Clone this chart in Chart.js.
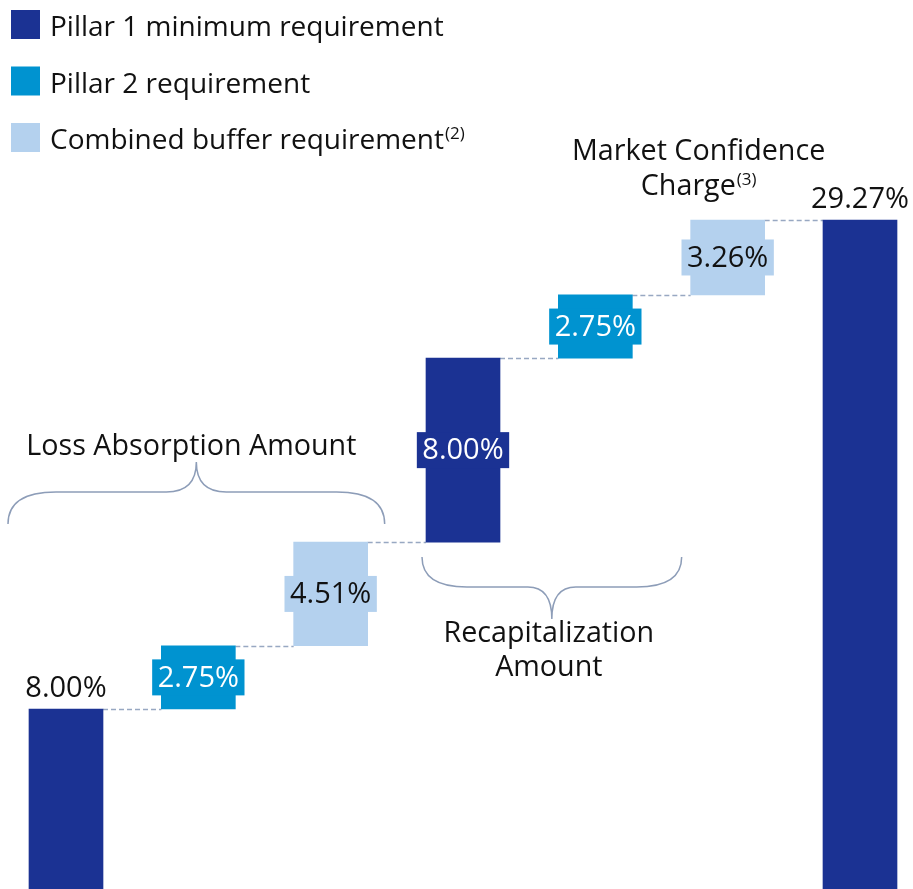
<!DOCTYPE html>
<html>
<head>
<meta charset="utf-8">
<script src="https://cdn.jsdelivr.net/npm/chart.js@4.4.0/dist/chart.umd.min.js"></script>
<style>
  html, body { margin: 0; padding: 0; background: #ffffff; }
  #wrap { width: 913px; height: 889px; }
</style>
</head>
<body>
<div id="wrap"><canvas id="capitalChart" width="913" height="889"></canvas></div>
<script>
// Capital requirement stack, in percent of RWA
var categories = ['Pillar 1', 'Pillar 2', 'Combined buffer', 'Pillar 1 (recap)', 'Pillar 2 (recap)', 'Market confidence charge', 'Total'];
var values = [8.00, 2.75, 4.51, 8.00, 2.75, 3.26, 29.27];
var valueLabels = ['8.00%', '2.75%', '4.51%', '8.00%', '2.75%', '3.26%', '29.27%'];
var isTotal = [false, false, false, false, false, false, true];
var kinds = ['p1', 'p2', 'cbr', 'p1', 'p2', 'cbr', 'p1'];
var labelOutside = [true, false, false, false, false, false, true];

var seriesKeys = ['p1', 'p2', 'cbr'];
var seriesNames = ['Pillar 1 minimum requirement', 'Pillar 2 requirement', 'Combined buffer requirement'];
var seriesSup = ['', '', '(2)'];
var seriesColors = ['#1B3293', '#0093D0', '#B4D1EE'];
var seriesText = ['#ffffff', '#ffffff', '#111111'];

var FONT = '"Open Sans", sans-serif';

// waterfall ranges: each step starts where the last one ended, total starts at 0
var ranges = [];
var running = 0;
for (var i = 0; i < values.length; i++) {
    if (isTotal[i]) {
        ranges.push([0, values[i]]);
    } else {
        ranges.push([running, running + values[i]]);
        running += values[i];
    }
}

var datasets = seriesKeys.map(function(key, s) {
    return {
        label: seriesNames[s],
        data: ranges.map(function(r, i) { return kinds[i] === key ? r : null; }),
        backgroundColor: seriesColors[s],
        borderWidth: 0,
        barThickness: 74,
        grouped: false,
        clip: false
    };
});

function drawBrace(ctx, x1, x2, yEnd, yMid, yTip, rEnd, rMid) {
    var xc = (x1 + x2) / 2;
    ctx.beginPath();
    ctx.moveTo(x1, yEnd);
    ctx.quadraticCurveTo(x1, yMid, x1 + rEnd, yMid);
    ctx.lineTo(xc - rMid, yMid);
    ctx.quadraticCurveTo(xc, yMid, xc, yTip);
    ctx.quadraticCurveTo(xc, yMid, xc + rMid, yMid);
    ctx.lineTo(x2 - rEnd, yMid);
    ctx.quadraticCurveTo(x2, yMid, x2, yEnd);
    ctx.stroke();
}

// text with an optional superscript tail, centred or left aligned
function textWithSup(ctx, main, sup, x, y, size, align) {
    ctx.font = size + 'px ' + FONT;
    var w1 = ctx.measureText(main).width;
    ctx.font = Math.round(size * 0.6) + 'px ' + FONT;
    var w2 = sup ? ctx.measureText(sup).width + 1 : 0;
    var start = align === 'center' ? x - (w1 + w2) / 2 : x;
    ctx.textAlign = 'left';
    ctx.font = size + 'px ' + FONT;
    ctx.fillText(main, start, y);
    if (sup) {
        ctx.font = Math.round(size * 0.6) + 'px ' + FONT;
        ctx.fillText(sup, start + w1 + 1, y - size * 0.36);
    }
}

var waterfallDecor = {
    id: 'waterfallDecor',
    beforeDatasetsDraw: function(chart) {
        var ctx = chart.ctx;
        var xs = chart.scales.x, ys = chart.scales.y;
        var half = 37;
        ctx.save();
        // dashed connectors between the steps
        ctx.strokeStyle = '#98A8C2';
        ctx.lineWidth = 1.5;
        ctx.setLineDash([5, 3]);
        for (var i = 0; i < ranges.length - 1; i++) {
            var y = Math.round(ys.getPixelForValue(ranges[i][1])) + 0.5;
            ctx.beginPath();
            ctx.moveTo(xs.getPixelForValue(i) + half, y);
            ctx.lineTo(xs.getPixelForValue(i + 1) - half, y);
            ctx.stroke();
        }
        ctx.restore();
    },
    afterDatasetsDraw: function(chart) {
        var ctx = chart.ctx;
        var xs = chart.scales.x, ys = chart.scales.y;
        ctx.save();

        // value labels
        ctx.textBaseline = 'middle';
        ctx.textAlign = 'center';
        ctx.font = '29px ' + FONT;
        for (var i = 0; i < ranges.length; i++) {
            var s = seriesKeys.indexOf(kinds[i]);
            var cx = xs.getPixelForValue(i);
            var top = ys.getPixelForValue(ranges[i][1]);
            var bot = ys.getPixelForValue(ranges[i][0]);
            if (labelOutside[i]) {
                ctx.fillStyle = '#111111';
                ctx.textBaseline = 'alphabetic';
                ctx.fillText(valueLabels[i], cx, top - 12);
                ctx.textBaseline = 'middle';
            } else {
                var mid = (top + bot) / 2;
                var w = ctx.measureText(valueLabels[i]).width + 11;
                ctx.fillStyle = seriesColors[s];
                ctx.fillRect(cx - w / 2, mid - 18, w, 36);
                ctx.fillStyle = seriesText[s];
                ctx.fillText(valueLabels[i], cx, mid + 1);
            }
        }

        // braces
        ctx.strokeStyle = '#8D9DB8';
        ctx.lineWidth = 1.5;
        var b1y = ys.getPixelForValue(ranges[2][1]);
        var b1x1 = xs.getPixelForValue(0) - 58, b1x2 = xs.getPixelForValue(2) + 54;
        drawBrace(ctx, b1x1, b1x2, b1y - 18, b1y - 50, b1y - 80, 48, 30);
        var b2y = ys.getPixelForValue(ranges[3][0]);
        var b2x1 = xs.getPixelForValue(3) - 41, b2x2 = xs.getPixelForValue(5) - 46;
        drawBrace(ctx, b2x1, b2x2, b2y + 15, b2y + 45, b2y + 77, 45, 24);

        // annotation texts
        var AF = 28.7;
        ctx.fillStyle = '#111111';
        ctx.textBaseline = 'alphabetic';
        textWithSup(ctx, 'Loss Absorption Amount', '', (b1x1 + b1x2) / 2 - 5, b1y - 87, AF, 'center');
        textWithSup(ctx, 'Recapitalization', '', (b2x1 + b2x2) / 2 - 3, b2y + 100, AF, 'center');
        textWithSup(ctx, 'Amount', '', (b2x1 + b2x2) / 2 - 3, b2y + 134, AF, 'center');
        var mx = xs.getPixelForValue(5) - 29;
        textWithSup(ctx, 'Market Confidence', '', mx, 160, AF, 'center');
        textWithSup(ctx, 'Charge', '(3)', mx, 195, AF, 'center');

        // legend, one entry per row
        chart.data.datasets.forEach(function(ds, s) {
            var y0 = 10 + s * 56.5;
            ctx.fillStyle = ds.backgroundColor;
            ctx.fillRect(11, y0, 29, 29);
            ctx.fillStyle = '#111111';
            textWithSup(ctx, ds.label, seriesSup[s], 50, y0 + 26, 28, 'left');
        });
        ctx.restore();
    }
};

var ctx = document.getElementById('capitalChart').getContext('2d');
var capitalChart = new Chart(ctx, {
    type: 'bar',
    data: {
        labels: categories,
        datasets: datasets
    },
    options: {
        responsive: false,
        animation: false,
        devicePixelRatio: 1,
        layout: {
            padding: { left: 66, right: 53, top: 0, bottom: 0 }
        },
        scales: {
            x: {
                type: 'category',
                offset: false,
                display: false,
                grid: { display: false }
            },
            y: {
                min: 0.17,
                max: 38.84,
                display: false,
                grid: { display: false }
            }
        },
        plugins: {
            legend: { display: false },
            tooltip: { enabled: false }
        }
    },
    plugins: [waterfallDecor]
});
</script>
</body>
</html>
